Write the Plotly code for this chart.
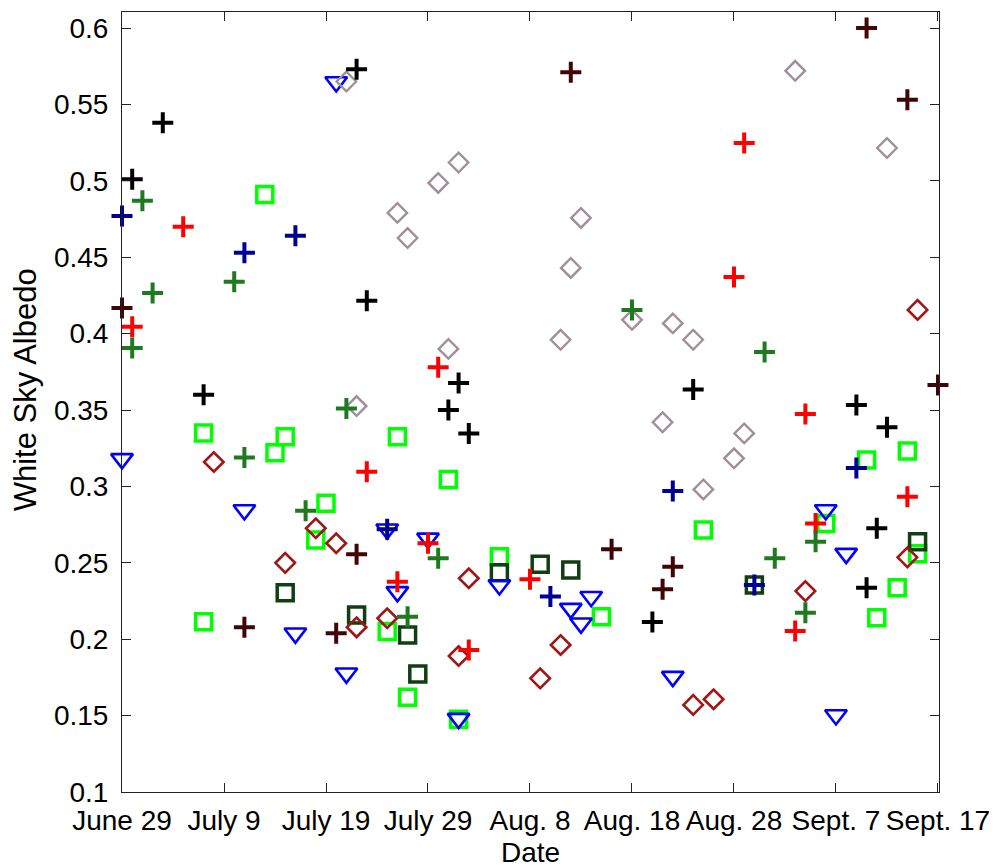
import plotly.graph_objects as go

# x = days since June 29
tick_days = [0, 10, 20, 30, 40, 50, 60, 70, 80]
tick_labels = ["June 29", "July 9", "July 19", "July 29", "Aug. 8",
               "Aug. 18", "Aug. 28", "Sept. 7", "Sept. 17"]
y_ticks = [0.1, 0.15, 0.2, 0.25, 0.3, 0.35, 0.4, 0.45, 0.5, 0.55, 0.6]
y_tick_labels = ["0.1", "0.15", "0.2", "0.25", "0.3", "0.35", "0.4", "0.45", "0.5", "0.55", "0.6"]

lime_sq_x = [8, 8, 14, 15, 16, 19, 20, 26, 27, 28, 32, 33, 37, 47, 57, 69, 73, 74, 76, 77, 78]
lime_sq_y = [0.335, 0.2115, 0.491, 0.322, 0.3325, 0.265, 0.289, 0.205, 0.3325, 0.162, 0.3046,
             0.1476, 0.254, 0.2147, 0.2715, 0.2758, 0.3173, 0.214, 0.2337, 0.3232, 0.256]

dkgreen_sq_x = [16, 23, 28, 29, 37, 41, 44, 62, 78]
dkgreen_sq_y = [0.2304, 0.2158, 0.2027, 0.1772, 0.2435, 0.249, 0.2453, 0.2355, 0.2638]

tri_x = [0, 12, 17, 21, 22, 26, 27, 30, 33, 37, 44, 45, 46, 54, 69, 70, 71]
tri_y = [0.318, 0.2846, 0.2039, 0.5647, 0.1777, 0.272, 0.231, 0.266, 0.148, 0.2355,
         0.220, 0.2104, 0.2278, 0.1755, 0.2846, 0.1504, 0.256]

dkred_dia_x = [9, 16, 19, 21, 23, 26, 33, 34, 41, 43, 56, 58, 67, 77, 78]
dkred_dia_y = [0.316, 0.250, 0.2726, 0.2628, 0.2078, 0.2137, 0.189, 0.2399, 0.1744, 0.1962,
               0.157, 0.1607, 0.2315, 0.2536, 0.4155]

gray_dia_x = [22, 23, 27, 28, 31, 32, 33, 43, 44, 45, 50, 53, 54, 56, 57, 60, 61, 66, 75]
gray_dia_y = [0.565, 0.3526, 0.479, 0.4626, 0.4986, 0.390, 0.512, 0.396, 0.443, 0.4757,
              0.409, 0.342, 0.4067, 0.396, 0.298, 0.3184, 0.3347, 0.572, 0.5215]

navy_plus_x = [0, 12, 17, 26, 42, 54, 62, 72]
navy_plus_y = [0.477, 0.453, 0.464, 0.272, 0.228, 0.297, 0.2355, 0.312]

black_plus_x = [1, 4, 8, 23, 24, 32, 33, 34, 52, 56, 72, 73, 74, 75]
black_plus_y = [0.501, 0.538, 0.360, 0.573, 0.4215, 0.350, 0.3677, 0.3347, 0.2113, 0.3635,
                0.3533, 0.2337, 0.2726, 0.3387]

brown_plus_x = [0, 12, 21, 23, 44, 48, 53, 54, 73, 77, 80]
brown_plus_y = [0.4167, 0.2078, 0.2039, 0.2556, 0.571, 0.2588, 0.2327, 0.2475, 0.600, 0.553, 0.3664]

red_plus_x = [1, 6, 24, 27, 30, 31, 34, 40, 60, 61, 66, 67, 68, 77]
red_plus_y = [0.4045, 0.470, 0.3096, 0.2376, 0.2628, 0.378, 0.1929, 0.2392, 0.437, 0.5247,
              0.2054, 0.3474, 0.2758, 0.2933]

green_plus_x = [1, 2, 3, 11, 12, 18, 22, 28, 31, 50, 63, 64, 67, 68]
green_plus_y = [0.3906, 0.487, 0.4266, 0.434, 0.319, 0.284, 0.351, 0.2147, 0.253, 0.4155,
                0.388, 0.253, 0.2173, 0.2638]

fig = go.Figure()


def add(xs, ys, symbol, color, size, lw):
    fig.add_trace(go.Scatter(
        x=xs, y=ys, mode="markers", showlegend=False, cliponaxis=False,
        marker=dict(symbol=symbol, size=size, color=color,
                    line=dict(color=color, width=lw))))


add(lime_sq_x, lime_sq_y, "square-open", "#00ff00", 16, 3.5)
add(dkgreen_sq_x, dkgreen_sq_y, "square-open", "#123f12", 16, 3.5)
add(tri_x, tri_y, "triangle-down-open", "#0000ff", 19, 2.6)
add(dkred_dia_x, dkred_dia_y, "diamond-open", "#a01515", 15, 2.6)
add(gray_dia_x, gray_dia_y, "diamond-open", "#a08f98", 15, 2.4)
add(navy_plus_x, navy_plus_y, "cross-thin", "#000090", 15, 4)
add(black_plus_x, black_plus_y, "cross-thin", "#000000", 15, 4)
add(brown_plus_x, brown_plus_y, "cross-thin", "#420505", 15, 4)
add(red_plus_x, red_plus_y, "cross-thin", "#ff0000", 15, 4)
add(green_plus_x, green_plus_y, "cross-thin", "#1f7a1f", 15, 4)

font = dict(family="Liberation Sans, Arial, sans-serif", size=28, color="#000000")

# page body has an 8px margin: figure is 990x860 so it fits the 998x868 window
fig.update_layout(
    width=990, height=860,
    margin=dict(l=114, r=59, t=4, b=76, autoexpand=False),
    paper_bgcolor="white", plot_bgcolor="white",
    font=font,
    xaxis=dict(range=[0, 80.1], tickvals=tick_days, ticktext=tick_labels,
               showgrid=False, zeroline=False, showline=True, mirror="allticks",
               linecolor="#222222", linewidth=1, ticks="inside", ticklen=9,
               tickcolor="#222222", tickfont=font, ticklabelstandoff=3),
    yaxis=dict(range=[0.1, 0.6105], tickvals=y_ticks, ticktext=y_tick_labels,
               showgrid=False, zeroline=False, showline=True, mirror="allticks",
               linecolor="#222222", linewidth=1, ticks="inside", ticklen=9,
               tickcolor="#222222", tickfont=font, ticklabelstandoff=7),
    annotations=[
        dict(text="Date", xref="paper", yref="paper", x=0.5, y=0,
             xanchor="center", yanchor="middle", yshift=-60, showarrow=False,
             font=font),
        dict(text="White Sky Albedo", xref="paper", yref="paper", x=0, y=0.515,
             xanchor="center", yanchor="middle", xshift=-97, textangle=-90,
             showarrow=False, font=dict(family=font["family"], size=31, color="#000000")),
    ],
    shapes=[
        dict(type="line", xref="paper", yref="paper", layer="above",
             x0=1.0673, x1=1.0673, y0=0.2397, y1=0.7615,
             line=dict(color="#222222", width=1.5)),
        dict(type="line", xref="paper", yref="paper", layer="above",
             x0=1.0673, x1=1.2, y0=0.7615, y1=0.7615,
             line=dict(color="#222222", width=1.5)),
        dict(type="line", xref="paper", yref="paper", layer="above",
             x0=1.0673, x1=1.2, y0=0.2397, y1=0.2397,
             line=dict(color="#222222", width=1.5)),
    ],
)

fig.write_html("out.html")
